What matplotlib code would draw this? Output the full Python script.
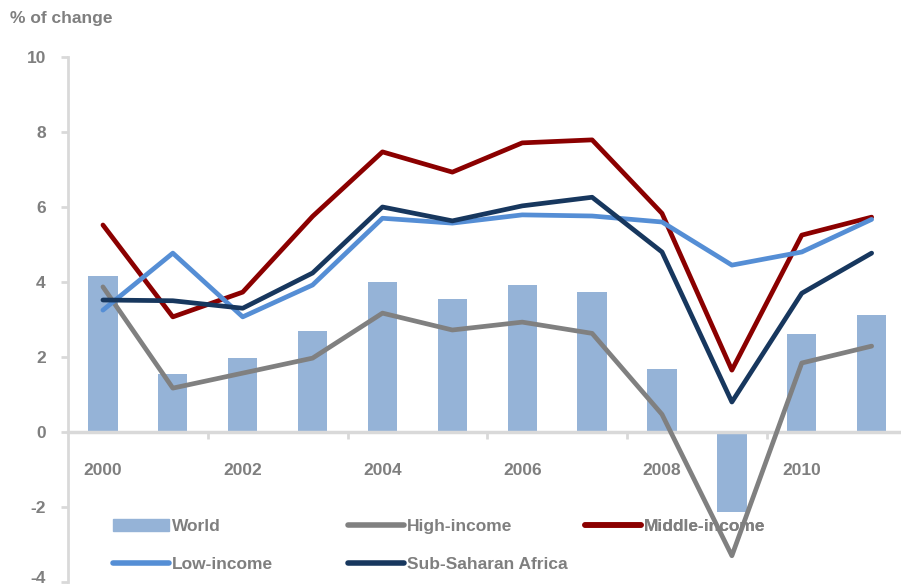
import numpy as np
import matplotlib
matplotlib.use('Agg')
import matplotlib.pyplot as plt
from matplotlib.patches import Patch
from matplotlib.lines import Line2D
from matplotlib.transforms import ScaledTranslation

years = [2000, 2001, 2002, 2003, 2004, 2005, 2006, 2007, 2008, 2009, 2010, 2011]
world = [4.16, 1.55, 1.97, 2.69, 4.0, 3.55, 3.92, 3.73, 1.67, -2.13, 2.61, 3.12]
high_income = [3.87, 1.17, 1.57, 1.97, 3.17, 2.72, 2.93, 2.63, 0.47, -3.3, 1.84, 2.29]
middle_income = [5.52, 3.07, 3.73, 5.75, 7.47, 6.93, 7.71, 7.79, 5.83, 1.65, 5.25, 5.73]
low_income = [3.25, 4.77, 3.07, 3.92, 5.7, 5.57, 5.79, 5.76, 5.6, 4.45, 4.8, 5.67]
ssa = [3.52, 3.5, 3.3, 4.24, 6.0, 5.63, 6.03, 6.26, 4.8, 0.8, 3.7, 4.77]
yticks = [10, 8, 6, 4, 2, 0, -2, -4]

txt = '#7f7f7f'
axc = '#d9d9d9'
c_world = '#95b3d7'
c_high = '#808080'
c_mid = '#8b0000'
c_low = '#558ed5'
c_ssa = '#17375e'

plt.rcParams['font.family'] = ['Liberation Sans', 'DejaVu Sans']
plt.rcParams['font.weight'] = 'bold'

fig = plt.figure(figsize=(9.01, 5.88), dpi=100)
ax = fig.add_axes([68/901, 1-582/588, 1-68/901, (582-57)/588])

x = np.arange(len(years))
ax.bar(x, world, width=0.42, color=c_world, zorder=2)
lw = 3.4
for vals, c in [(high_income, c_high), (middle_income, c_mid), (low_income, c_low), (ssa, c_ssa)]:
    ax.plot(x, vals, color=c, lw=lw, solid_joinstyle='round', solid_capstyle='round', zorder=3)

ax.set_ylim(-4, 10)
ax.set_xlim(-0.5, 11.42)
ax.set_yticks(yticks)
ax.set_yticklabels([str(v) for v in yticks])

for s in ['top', 'right']:
    ax.spines[s].set_visible(False)
ax.spines['left'].set_color(axc)
ax.spines['left'].set_linewidth(2)
ax.spines['bottom'].set_color(axc)
ax.spines['bottom'].set_linewidth(2.5)
ax.spines['bottom'].set_position(('data', 0))

ax.set_xticks(x[::2])
ax.set_xticklabels([str(y) for y in years[::2]])
ax.set_xticks([1.5, 3.5, 5.5, 7.5, 9.5], minor=True)
ax.tick_params(axis='x', which='major', length=0, pad=22, labelsize=12.5, labelcolor=txt)
ax.tick_params(axis='x', which='minor', length=5, width=2, color=axc, direction='out')
ax.tick_params(axis='y', length=5, width=2, color=axc, pad=11, labelsize=12.5, labelcolor=txt)

# keep the bottom label inside the canvas
last = ax.get_yticklabels()[-1]
last.set_transform(last.get_transform() + ScaledTranslation(0, 5/100, fig.dpi_scale_trans))

fig.text(10/901, 1-18/588, '% of change', fontsize=12.5, color=txt, fontweight='bold', va='center', ha='left')

def mkline(c):
    return Line2D([], [], color=c, lw=4, solid_capstyle='round')

groups = [
    ([Patch(color=c_world), mkline(c_low)], ['World', 'Low-income'], 113),
    ([mkline(c_high), mkline(c_ssa)], ['High-income', 'Sub-Saharan Africa'], 348),
    ([mkline(c_mid)], ['Middle-income'], 585),
]
for handles, labels, px in groups:
    leg = ax.legend(handles, labels, loc='upper left', frameon=False,
                    bbox_to_anchor=((px - 68) / 833, (582 - 527 + 8) / 525),
                    borderaxespad=0, borderpad=0, handlelength=3.2, handleheight=0.7,
                    handletextpad=0.2, labelspacing=1.3,
                    prop={'size': 12.5, 'weight': 'bold'}, labelcolor=txt)
    ax.add_artist(leg)

fig.savefig('out.png', dpi=100)
